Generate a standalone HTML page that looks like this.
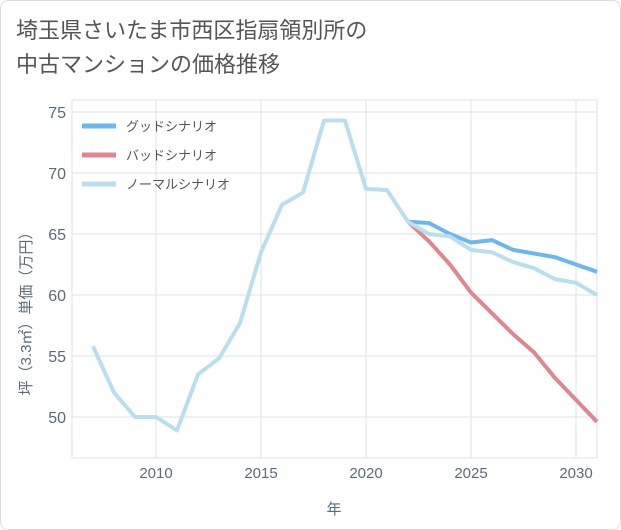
<!DOCTYPE html>
<html><head><meta charset="utf-8"><style>
body{margin:0;background:#fff;font-family:"Liberation Sans","Noto Sans CJK JP",sans-serif;}
#card{position:absolute;left:0;top:0;width:619px;height:528px;border:1px solid #ddd;border-radius:8px;background:#fff;}
#title{position:absolute;left:16px;top:14px;font-size:22px;line-height:34px;color:#555;}
</style></head><body>
<div id="card"></div>
<div id="title">埼玉県さいたま市西区指扇領別所の<br>中古マンションの価格推移</div>
<svg id="chart" width="621" height="530" style="position:absolute;left:0;top:0"></svg>
<script>
const years=[2007,2008,2009,2010,2011,2012,2013,2014,2015,2016,2017,2018,2019,2020,2021,2022,2023,2024,2025,2026,2027,2028,2029,2030,2031];
const normal=[55.8,52,50,50,48.9,53.5,54.8,57.7,63.5,67.4,68.4,74.3,74.3,68.7,68.6,66,65,64.8,63.7,63.5,62.7,62.2,61.3,61.0,60.0];
const futureYears=[2022,2023,2024,2025,2026,2027,2028,2029,2030,2031];
const good=[66,65.9,65,64.3,64.5,63.7,63.4,63.1,62.5,61.9];
const bad=[66,64.4,62.5,60.2,58.5,56.8,55.3,53.2,51.4,49.6];
const xTicks=[2010,2015,2020,2025,2030];
const yTicks=[50,55,60,65,70,75];
const legendLabels=["グッドシナリオ","バッドシナリオ","ノーマルシナリオ"];
const colors=["#6bb8f0","#e0868f","#b9dfef"];
const svg=document.getElementById('chart');
const NS="http://www.w3.org/2000/svg";
const X0=72,X1=597,Y0=100,Y1=458;
const xs=y=>156+(y-2010)*21;
const ys=v=>417-(v-50)*12.2;
function mk(t,a){const e=document.createElementNS(NS,t);for(const k in a)e.setAttribute(k,a[k]);svg.appendChild(e);return e;}
mk('rect',{x:X0,y:Y0,width:X1-X0,height:Y1-Y0,fill:'none',stroke:'#dde3ea'});
xTicks.forEach(t=>{const l=mk('line',{x1:xs(t),x2:xs(t),y1:Y0,y2:Y1,stroke:'#dde3ea'});

const tx=mk('text',{x:xs(t),y:478,'text-anchor':'middle','font-size':15,fill:'#5a6b7d'});tx.textContent=t;
});
yTicks.forEach(t=>{const l=mk('line',{x1:X0,x2:X1,y1:ys(t),y2:ys(t),stroke:'#dde3ea'});

const tx=mk('text',{x:66,y:ys(t)+6,'text-anchor':'end','font-size':16,fill:'#5a6b7d'});tx.textContent=t;
});
const xt=mk('text',{x:334,y:514,'text-anchor':'middle','font-size':15,fill:'#5a6b7d'});xt.textContent='年';

const yt=mk('text',{x:0,y:0,'text-anchor':'middle','font-size':15,fill:'#5a6b7d',transform:'translate(31,310) rotate(-90)'});yt.textContent='坪（3.3㎡）単価（万円）';

function line(xa,va,c,name){const d=xa.map((y,i)=>(i?'L':'M')+xs(y)+','+ys(va[i])).join(' ');
const p=mk('path',{d:d,fill:'none',stroke:c,'stroke-width':4,'stroke-linejoin':'round'});
}
line(futureYears,good,colors[0],'good-scenario-line');
line(futureYears,bad,colors[1],'bad-scenario-line');
line(years,normal,colors[2],'normal-scenario-line');
legendLabels.forEach((s,i)=>{const y=126+i*29;
const l=mk('line',{x1:82,x2:116,y1:y,y2:y,stroke:colors[i],'stroke-width':5});

const t=mk('text',{x:126,y:y+5,'font-size':13,fill:'#555'});t.textContent=s;
});
</script>
</body></html>
